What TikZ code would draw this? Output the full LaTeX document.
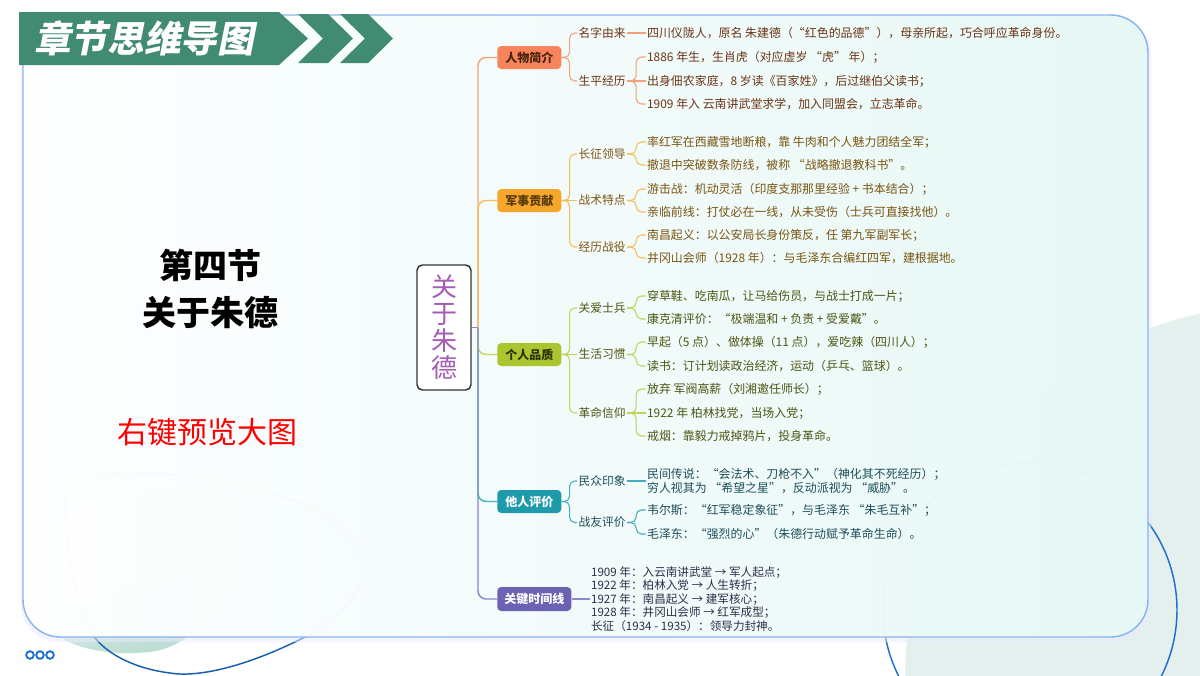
\documentclass[tikz,border=0pt]{standalone}
\usepackage{fontspec}
\setmainfont{Noto Sans CJK SC}
\newfontfamily\titlefont[FakeSlant=0.2]{Noto Sans CJK SC}
\usetikzlibrary{calc}
\definecolor{bannerc}{HTML}{428B73}
\definecolor{panelb}{HTML}{8AB4F0}
\definecolor{mint}{HTML}{E6F9F5}
\definecolor{paleC}{HTML}{E4F0EE}
\definecolor{blueL}{HTML}{1E6FCF}
\definecolor{blobC}{HTML}{B4D9CE}
\definecolor{rootP}{HTML}{A45CB5}
\definecolor{bAf}{HTML}{F7845A}\definecolor{bAl}{HTML}{F4A07C}\definecolor{bAt}{HTML}{6B3416}
\definecolor{bBf}{HTML}{F6A62A}\definecolor{bBl}{HTML}{F7BE5A}\definecolor{bBt}{HTML}{7A5512}
\definecolor{bCf}{HTML}{ABC52E}\definecolor{bCl}{HTML}{C3D25A}\definecolor{bCt}{HTML}{4E5514}
\definecolor{bDf}{HTML}{1E9AAB}\definecolor{bDl}{HTML}{43AEBD}\definecolor{bDt}{HTML}{1D4E5B}
\definecolor{bEf}{HTML}{6B62B3}\definecolor{bEl}{HTML}{8C86CC}\definecolor{bEt}{HTML}{2E2E4A}
\tikzset{
  lvlbox/.style={anchor=west, rounded corners=3pt, minimum width=48pt, minimum height=17.25pt, inner sep=0pt, font=\fontsize{9}{10}\selectfont\bfseries},
  sublab/.style={anchor=west, inner sep=1pt, font=\fontsize{8.8}{10}\selectfont},
  leaf/.style={anchor=west, inner sep=1pt, font=\fontsize{8.95}{10.5}\selectfont},
  mainline/.style={line width=1.1pt, rounded corners=6pt},
  subline/.style={line width=0.8pt, rounded corners=4pt},
}
\begin{document}
\begin{tikzpicture}[x=0.75pt,y=-0.75pt]
\useasboundingbox (0,0) rectangle (1200,675);
\fill[white] (0,0) rectangle (1200,675);
% ---- background decorations
\begin{scope}
\clip (0,0) rectangle (1200,675);
\fill[paleC] (1280,680) circle[radius=375];
\draw[blueL, line width=1.1pt] (1030,610) circle[radius=147];
\shade[top color=white, bottom color=blobC, shading angle=20]
  (25,570) .. controls (25,520) and (120,490) .. (200,488)
  .. controls (260,487) and (240,640) .. (150,652)
  .. controls (60,660) and (25,620) .. cycle;
\draw[blueL!85!black, line width=1.1pt]
  (110,473) .. controls (200,470) and (300,490) .. (345,530)
  .. controls (380,570) and (360,605) .. (305,637)
  .. controls (250,665) and (200,678) .. (170,673)
  .. controls (130,668) and (100,650) .. (90,630)
  .. controls (72,590) and (65,540) .. (65,505)
  .. controls (65,482) and (80,473) .. (110,473) -- cycle;
\end{scope}
% ---- panel
\fill[blue!8, opacity=0.5, rounded corners=28pt] (21,18) rectangle (1151,642);
\shade[left color=white, right color=mint, fill opacity=0.965, rounded corners=28pt] (23,15) rectangle (1148,637);
\draw[panelb, line width=1.1pt, rounded corners=28pt] (23,15) rectangle (1148,637);
% ---- banner
\fill[bannerc] (19,12) -- (279,12) -- (308,38.5) -- (279,65) -- (19,65) -- cycle;
\fill[bannerc] (298,14) -- (328,14) -- (353,38.5) -- (328,63) -- (298,63) -- (323,38.5) -- cycle;
\fill[bannerc] (340,14) -- (368,14) -- (393,38.5) -- (368,63) -- (340,63) -- (365,38.5) -- cycle;
\node[text=white, font=\titlefont\bfseries\fontsize{27.5}{30}\selectfont] (bannertitle) at (144,38.5) {章节思维导图};
% ---- left texts
\node[font=\bfseries\fontsize{25.5}{28}\selectfont, text=black] (sec) at (210,265) {第四节};
\node[font=\bfseries\fontsize{25.5}{28}\selectfont, text=black] (sectitle) at (210,313) {关于朱德};
\node[font=\fontsize{22.5}{25}\selectfont, text=red] (preview) at (207,432) {右键预览大图};
% ---- root
\node[draw=black!80, line width=1.1pt, fill=white, rounded corners=4pt, minimum width=40.5pt, minimum height=93.75pt, inner sep=0pt, align=center, text=rootP, font=\fontsize{19.5}{20.3}\selectfont] (root) at (444,327.5) {关\\于\\朱\\德};
\coordinate (T) at (478,327.5);
% ---- level 1 boxes
\node[lvlbox, fill=bAf, text=bAt!70!black] (b1) at (497,57.5) {人物简介};
\node[lvlbox, fill=bBf, text=bBt!70!black] (b2) at (497,200.5) {军事贡献};
\node[lvlbox, fill=bCf, text=bCt!60!black] (b3) at (497,354.5) {个人品质};
\node[lvlbox, fill=bDf, text=white] (b4) at (497,501.5) {他人评价};
\node[lvlbox, fill=bEf, text=white, minimum width=55.5pt, minimum height=18pt] (b5) at (497,599) {关键时间线};
% ---- trunk connectors
\draw[mainline, bAl] (T) |- (b1.west);
\draw[mainline, bBl] (T) |- (b2.west);
\draw[mainline, bDl] (T) |- (b4.west);
\draw[mainline, bCl] (T) |- (b3.west);
\draw[mainline, bEl] (T) |- (b5.west);
\draw[line width=1.1pt, bEl] (root.east) -- (T);
% ---- branch 1
\node[sublab, text=bAt] (n11) at (577,33) {名字由来};
\node[sublab, text=bAt] (n12) at (577,81) {生平经历};
\node[leaf, text=bAt] (l111) at (645.5,33) {四川仪陇人，原名 朱建德（“红色的品德”），母亲所起，巧合呼应革命身份。};
\node[leaf, text=bAt] (l121) at (645.5,57) {1886 年生，生肖虎（对应虚岁 “虎” 年）；};
\node[leaf, text=bAt] (l122) at (645.5,81) {出身佃农家庭，8 岁读《百家姓》，后过继伯父读书；};
\node[leaf, text=bAt] (l123) at (645.5,104) {1909 年入 云南讲武堂求学，加入同盟会，立志革命。};
\draw[subline, bAl] (b1.east) -- ++(8,0) |- (n11.west);
\draw[subline, bAl] (b1.east) -- ++(8,0) |- (n12.west);
\draw[subline, bAl] (n11.east) -- (l111.west);
\draw[subline, bAl] (n12.east) -- ++(9,0) |- (l121.west);
\draw[subline, bAl] (n12.east) -- (l122.west);
\draw[subline, bAl] (n12.east) -- ++(9,0) |- (l123.west);
% ---- branch 2
\node[sublab, text=bBt] (n21) at (577,154) {长征领导};
\node[sublab, text=bBt] (n22) at (577,200.5) {战术特点};
\node[sublab, text=bBt] (n23) at (577,247) {经历战役};
\node[leaf, text=bBt] (l211) at (645.5,142) {率红军在西藏雪地断粮，靠 牛肉和个人魅力团结全军；};
\node[leaf, text=bBt] (l212) at (645.5,165) {撤退中突破数条防线，被称 “战略撤退教科书”。};
\node[leaf, text=bBt] (l221) at (645.5,189) {游击战：机动灵活（印度支那那里经验 + 书本结合）；};
\node[leaf, text=bBt] (l222) at (645.5,212) {亲临前线：打仗必在一线，从未受伤（士兵可直接找他）。};
\node[leaf, text=bBt] (l231) at (645.5,235) {南昌起义：以公安局长身份策反，任 第九军副军长；};
\node[leaf, text=bBt] (l232) at (645.5,258) {井冈山会师（1928 年）：与毛泽东合编红四军，建根据地。};
\draw[subline, bBl] (b2.east) -- ++(8,0) |- (n21.west);
\draw[subline, bBl] (b2.east) -- (n22.west);
\draw[subline, bBl] (b2.east) -- ++(8,0) |- (n23.west);
\draw[subline, bBl] (n21.east) -- ++(9,0) |- (l211.west);
\draw[subline, bBl] (n21.east) -- ++(9,0) |- (l212.west);
\draw[subline, bBl] (n22.east) -- ++(9,0) |- (l221.west);
\draw[subline, bBl] (n22.east) -- ++(9,0) |- (l222.west);
\draw[subline, bBl] (n23.east) -- ++(9,0) |- (l231.west);
\draw[subline, bBl] (n23.east) -- ++(9,0) |- (l232.west);
% ---- branch 3
\node[sublab, text=bCt] (n31) at (577,308) {关爱士兵};
\node[sublab, text=bCt] (n32) at (577,354.5) {生活习惯};
\node[sublab, text=bCt] (n33) at (577,413) {革命信仰};
\node[leaf, text=bCt] (l311) at (645.5,296) {穿草鞋、吃南瓜，让马给伤员，与战士打成一片；};
\node[leaf, text=bCt] (l312) at (645.5,319) {康克清评价：“极端温和 + 负责 + 受爱戴”。};
\node[leaf, text=bCt] (l321) at (645.5,342) {早起（5 点）、做体操（11 点），爱吃辣（四川人）；};
\node[leaf, text=bCt] (l322) at (645.5,366) {读书：订计划读政治经济，运动（乒乓、篮球）。};
\node[leaf, text=bCt] (l331) at (645.5,389) {放弃 军阀高薪（刘湘邀任师长）；};
\node[leaf, text=bCt] (l332) at (645.5,413) {1922 年 柏林找党，当场入党；};
\node[leaf, text=bCt] (l333) at (645.5,436) {戒烟：靠毅力戒掉鸦片，投身革命。};
\draw[subline, bCl] (b3.east) -- ++(8,0) |- (n31.west);
\draw[subline, bCl] (b3.east) -- (n32.west);
\draw[subline, bCl] (b3.east) -- ++(8,0) |- (n33.west);
\draw[subline, bCl] (n31.east) -- ++(9,0) |- (l311.west);
\draw[subline, bCl] (n31.east) -- ++(9,0) |- (l312.west);
\draw[subline, bCl] (n32.east) -- ++(9,0) |- (l321.west);
\draw[subline, bCl] (n32.east) -- ++(9,0) |- (l322.west);
\draw[subline, bCl] (n33.east) -- ++(9,0) |- (l331.west);
\draw[subline, bCl] (n33.east) -- (l332.west);
\draw[subline, bCl] (n33.east) -- ++(9,0) |- (l333.west);
% ---- branch 4
\node[sublab, text=bDt] (n41) at (577,481) {民众印象};
\node[sublab, text=bDt] (n42) at (577,522.5) {战友评价};
\node[leaf, text=bDt, align=left, font=\fontsize{8.95}{10.5}\selectfont] (l411) at (645.5,481) {民间传说：“会法术、刀枪不入”（神化其不死经历）；\\穷人视其为 “希望之星”，反动派视为 “威胁”。};
\node[leaf, text=bDt] (l421) at (645.5,510) {韦尔斯：“红军稳定象征”，与毛泽东 “朱毛互补”；};
\node[leaf, text=bDt] (l422) at (645.5,534) {毛泽东：“强烈的心”（朱德行动赋予革命生命）。};
\draw[subline, bDl] (b4.east) -- ++(8,0) |- (n41.west);
\draw[subline, bDl] (b4.east) -- ++(8,0) |- (n42.west);
\draw[subline, bDl] (n41.east) -- (n41.east -| l411.west);
\draw[subline, bDl] (n42.east) -- ++(9,0) |- (l421.west);
\draw[subline, bDl] (n42.east) -- ++(9,0) |- (l422.west);
% ---- branch 5
\node[leaf, text=bEt, align=left, font=\fontsize{8.7}{10.1}\selectfont] (l51) at (589.5,599) {1909 年：入云南讲武堂 → 军人起点；\\1922 年：柏林入党 → 人生转折；\\1927 年：南昌起义 → 建军核心；\\1928 年：井冈山会师 → 红军成型；\\长征（1934 - 1935）：领导力封神。};
\draw[subline, bEl] (b5.east) -- (b5.east -| l51.west);
% ---- dots
\foreach \i/\xx in {1/30,2/40,3/50} \draw[blueL, line width=1.4pt] (\xx,655) circle[radius=3.8] node (dot\i) {};
\end{tikzpicture}
\end{document}
